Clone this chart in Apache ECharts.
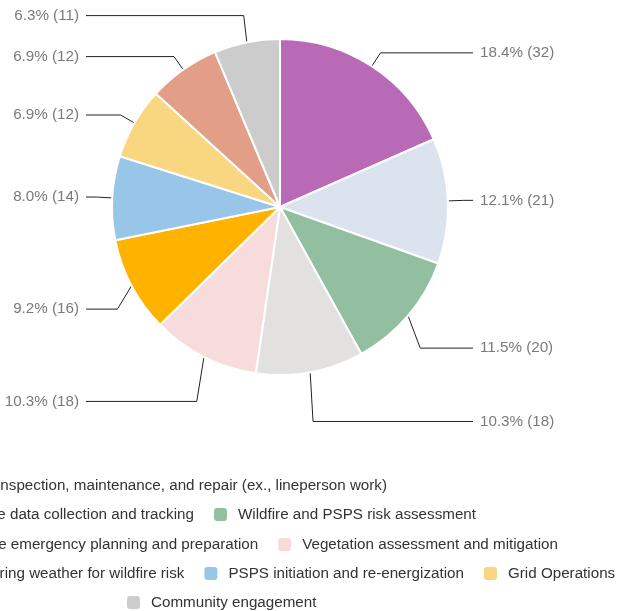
<!DOCTYPE html>
<html>
<head>
<meta charset="utf-8">
<script src="https://cdn.jsdelivr.net/npm/echarts@6/dist/echarts.min.js"></script>
<style>
  html, body { margin: 0; padding: 0; background: #fff; }
  #chart { width: 618px; height: 611px; }
</style>
</head>
<body>
<div id="chart"></div>
<script>
const categories = [
  'Asset inspection, maintenance, and repair (ex., lineperson work)',
  'Wildfire data collection and tracking',
  'Wildfire and PSPS risk assessment',
  'Wildfire emergency planning and preparation',
  'Vegetation assessment and mitigation',
  'Monitoring weather for wildfire risk',
  'PSPS initiation and re-energization',
  'Grid Operations',
  'Customer communications',
  'Community engagement'
];
const counts = [32, 21, 20, 18, 18, 16, 14, 12, 12, 11];
const colors = ['#b86ab7', '#dbe3ef', '#93bfa1', '#e2e1df', '#f8dcdc', '#ffb300', '#98c6e8', '#f9d680', '#e39e88', '#cccccc'];

const FONT = "'Liberation Sans', Arial, sans-serif";
const CX = 280, CY = 207, R = 168;
const total = counts.reduce((a, b) => a + b, 0);

// mid angle of every slice, clockwise from 12 o'clock
const midAngles = [];
let acc = 0;
counts.forEach(v => {
  midAngles.push((acc + v / 2) / total * Math.PI * 2);
  acc += v;
});

// label heights: a bit further out below the centre, then keep 40px apart per side
const labelYs = midAngles.map(a => {
  const c = Math.cos(a);
  return CY - (c >= 0 ? R + 16 : R + 50) * c;
});
function spread(side) {
  const idx = midAngles.map((a, i) => i)
    .filter(i => (Math.sin(midAngles[i]) >= 0) === side)
    .sort((a, b) => labelYs[b] - labelYs[a]);
  for (let k = 1; k < idx.length; k++) {
    const below = labelYs[idx[k - 1]];
    if (below - labelYs[idx[k]] < 41) labelYs[idx[k]] = below - 41;
  }
}
spread(true);
spread(false);

// legend rows (each row centred on its own, like the original)
const legendRows = [
  { items: [0], right: 231, top: 478 },
  { items: [1, 2], right: 142, top: 507 },
  { items: [3, 4], right: 60, top: 537 },
  { items: [5, 6, 7, 8], left: -70, top: 566 },
  { items: [9], left: 127, top: 595 }
];

const chart = echarts.init(document.getElementById('chart'));

const option = {
  animation: false,
  legend: legendRows.map(row => Object.assign({
    orient: 'horizontal',
    align: 'left',
    width: 1200,
    padding: 0,
    itemGap: 20,
    itemWidth: 13,
    itemHeight: 13,
    icon: 'roundRect',
    selectedMode: false,
    itemStyle: { borderWidth: 0 },
    data: row.items.map(i => categories[i]),
    textStyle: { fontFamily: FONT, fontSize: 15.2, color: '#333', padding: [0, 0, 0, 6] }
  }, row.right != null ? { right: row.right } : { left: row.left }, { top: row.top })),
  series: [
    {
      type: 'pie',
      center: [CX, CY],
      radius: R,
      startAngle: 90,
      clockwise: true,
      data: categories.map((name, i) => ({
        name: name,
        value: counts[i],
        itemStyle: { color: colors[i] }
      })),
      itemStyle: { borderColor: '#fff', borderWidth: 2 },
      emphasis: { disabled: true },
      label: {
        show: true,
        position: 'outside',
        fontFamily: FONT,
        fontSize: 15.2,
        color: '#7a7a7a',
        overflow: 'none',
        formatter: p => (p.value / total * 100).toFixed(1) + '% (' + p.value + ')'
      },
      labelLine: {
        show: true,
        length: 16,
        length2: 20,
        lineStyle: { color: '#222', width: 1 }
      },
      labelLayout: function (p) {
        const i = p.dataIndex;
        const s = Math.sin(midAngles[i]);
        const c = Math.cos(midAngles[i]);
        const onRight = s >= 0;
        const y = labelYs[i];
        const endX = onRight ? CX + 193 : CX - 194;
        return {
          x: onRight ? endX + 7 : endX - 7,
          y: y,
          align: onRight ? 'left' : 'right',
          verticalAlign: 'middle',
          labelLinePoints: [
            [CX + R * s, CY - R * c],
            [CX + (R + 16) * s, y],
            [endX, y]
          ]
        };
      }
    }
  ]
};

chart.setOption(option);
</script>
</body>
</html>
